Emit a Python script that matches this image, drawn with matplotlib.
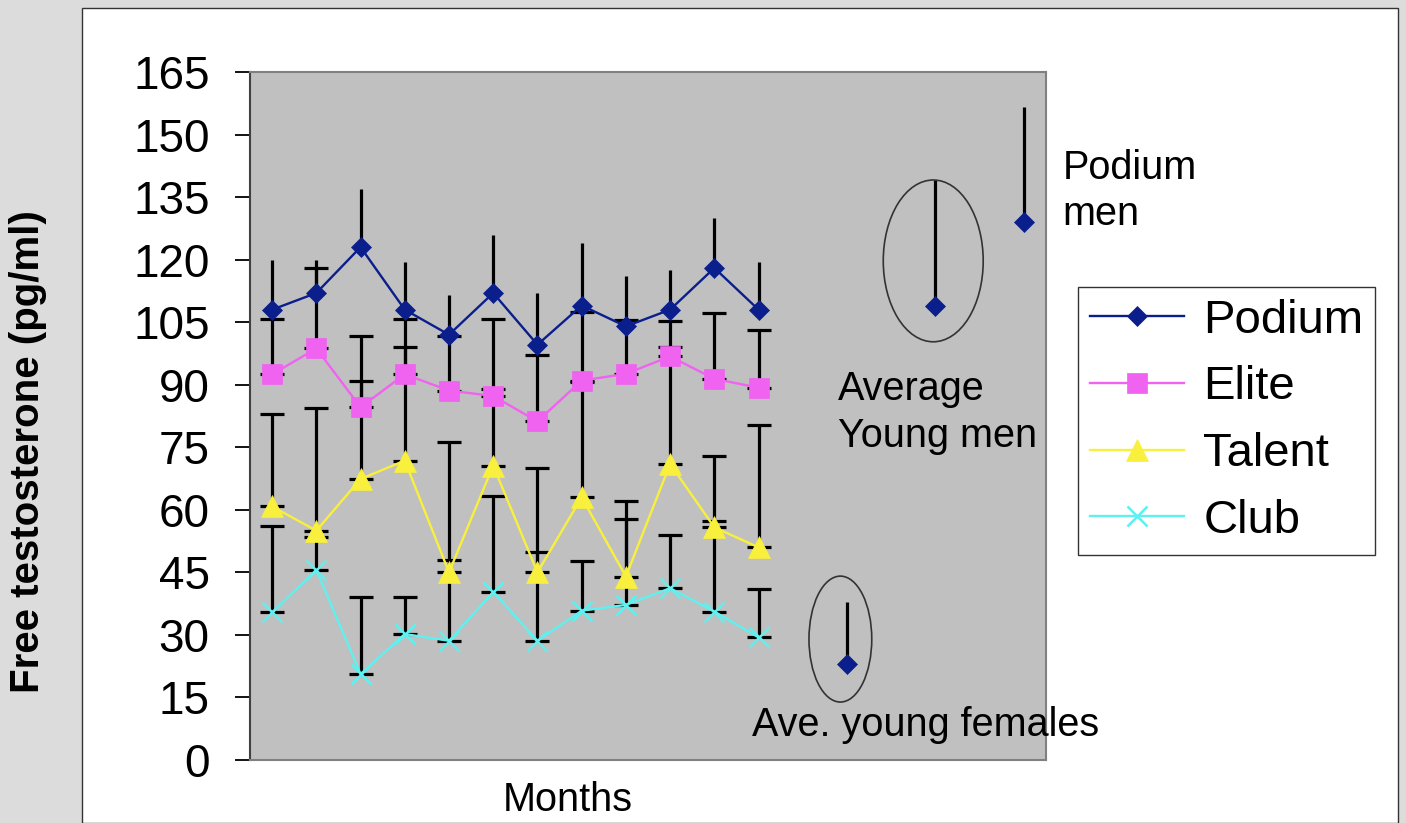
import numpy as np
import matplotlib
matplotlib.use("Agg")
import matplotlib.pyplot as plt
from matplotlib.patches import Ellipse, Rectangle

plt.rcParams['font.family'] = ['Liberation Sans', 'DejaVu Sans']

# category slots: 0-11 are the months, 13/15/17 hold the reference groups
slots = np.arange(18)
months = np.arange(12)

nan = np.nan
podium = [108, 112, 123, 108, 102, 112, 99.6, 109, 104, 108, 118, 108,
          nan, 23, nan, 109, nan, 129]
podium_err = [12, 8, 14, 11.5, 9.5, 14, 12.5, 15, 12, 9.5, 12, 11.5,
              nan, 15, nan, 30, nan, 27.5]

elite = [92.5, 98.7, 84.6, 92.5, 88.6, 87.3, 81.2, 91, 92.6, 96.8, 91.4, 89.3]
elite_err = [13.3, 19.3, 17, 13.3, 13, 18.5, 15.9, 16.4, 13, 8.5, 15.8, 13.8]

talent = [60.8, 55, 67.4, 71.8, 45, 70.6, 45, 63, 44, 71, 55.8, 51]
talent_err = [22.2, 29.3, 23.6, 27.2, 31.3, 18.4, 25, 27.6, 18, 28, 17, 29.3]

club = [35.4, 45.6, 20.6, 30.2, 28.6, 40.3, 28.6, 35.8, 37.2, 41.2, 35.6, 29.4]
club_err = [20.6, 7.9, 18.4, 9, 19.4, 23.1, 21.2, 12, 20.7, 12.8, 21.8, 11.7]

yticks = np.arange(0, 166, 15)

W, H = 1406, 823
fig = plt.figure(figsize=(W / 100, H / 100), dpi=100)
fig.patch.set_facecolor('#dcdcdc')

# white slide panel behind the chart
panel = Rectangle((82 / W, 0), (1398 - 82) / W, (H - 8) / H,
                  transform=fig.transFigure, facecolor='white',
                  edgecolor='#333333', linewidth=1.0, zorder=-5)
fig.patches.append(panel)

ax = fig.add_axes([250 / W, (H - 760) / H, 796 / W, 688 / H])
ax.set_facecolor('#c0c0c0')

series = [
    ('Podium', slots, podium, podium_err, '#0a1e8c', 'D', 10.5, 0),
    ('Elite', months, elite, elite_err, '#f062f0', 's', 14, 8.5),
    ('Talent', months, talent, talent_err, '#f8f03c', '^', 16, 8.5),
    ('Club', months, club, club_err, '#5ff0f0', 'x', 15, 8.5),
]

handles = []
for name, xs, ys, err, col, mk, ms, cap in series:
    err = np.asarray(err, dtype=float)
    ax.errorbar(xs, ys, yerr=[np.zeros_like(err), err], fmt='none',
                ecolor='black', elinewidth=2.3, capsize=cap, capthick=2.3,
                zorder=2)
    h, = ax.plot(xs, ys, color=col, linewidth=1.7, marker=mk, markersize=ms,
                 markerfacecolor=col, markeredgecolor=col,
                 markeredgewidth=1.8 if mk == 'x' else 0.5, zorder=3,
                 label=name)
    handles.append(h)

ax.set_xlim(-0.5, 17.5)
ax.set_ylim(0, 165)
ax.set_yticks(yticks)
ax.set_xticks([])
ax.tick_params(axis='y', direction='out', length=11, width=1.3,
               labelsize=33, pad=18, colors='black')
for side in ['top', 'right', 'bottom']:
    ax.spines[side].set_color('#808080')
    ax.spines[side].set_linewidth(1.5)
ax.spines['left'].set_color('#404040')
ax.spines['left'].set_linewidth(1.5)

# rings round the reference groups
ax.add_patch(Ellipse((14.95, 119.7), 2.26, 38.8, fill=False,
                     edgecolor='#333333', linewidth=1.2, zorder=4))
ax.add_patch(Ellipse((12.85, 29.0), 1.42, 30.2, fill=False,
                     edgecolor='#333333', linewidth=1.2, zorder=4))

ax.text(12.8, 93.5, 'Average\nYoung men', fontsize=28.5, va='top', ha='left',
        linespacing=1.3, zorder=5)
ax.text(17.88, 146.5, 'Podium\nmen', fontsize=28.5, va='top', ha='left',
        linespacing=1.25, clip_on=False, zorder=5)
ax.text(10.85, 8.4, 'Ave. young females', fontsize=28.5, va='center',
        ha='left', clip_on=False, zorder=5)

fig.text(568 / W, 1 - 800 / H, 'Months', fontsize=28.5, ha='center',
         va='center')
fig.text(28 / W, 1 - 452 / H, 'Free testosterone (pg/ml)', fontsize=29,
         fontweight='bold', rotation=90, ha='center', va='center')

leg = ax.legend(handles=handles, loc='upper left',
                bbox_to_anchor=(1078 / W, 1 - 287 / H),
                bbox_transform=fig.transFigure, borderaxespad=0,
                fontsize=34, fancybox=False, framealpha=1,
                edgecolor='#333333', handlelength=2.0, handletextpad=0.4,
                labelspacing=0.48, borderpad=0.25)
leg.get_frame().set_linewidth(1.0)

fig.savefig('out.png', dpi=100, facecolor=fig.get_facecolor())
